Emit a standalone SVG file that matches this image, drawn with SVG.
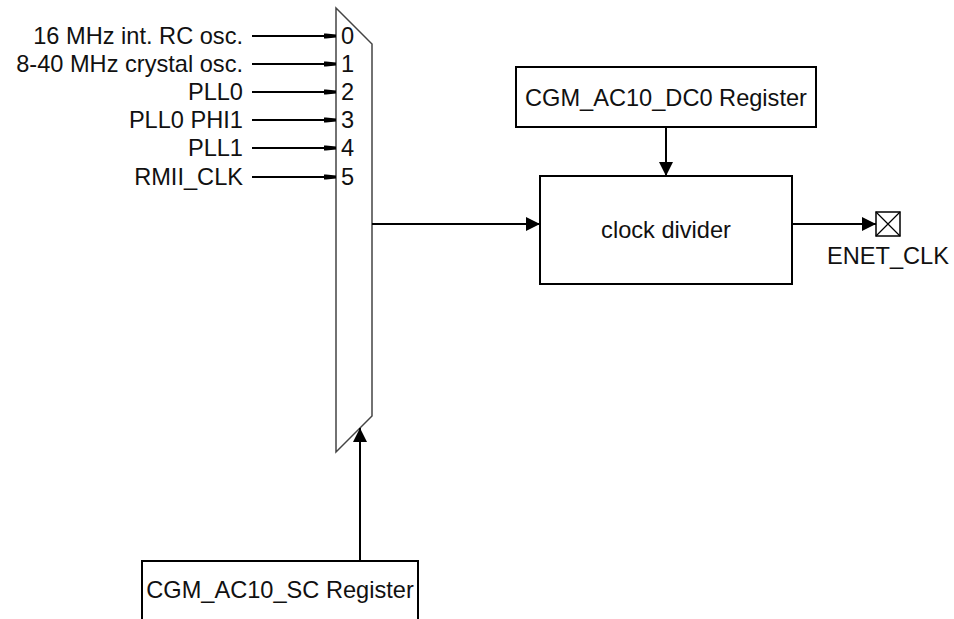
<svg xmlns="http://www.w3.org/2000/svg" width="954" height="619" viewBox="0 0 954 619">
<style>
text { font-family: "Liberation Sans", Arial, sans-serif; font-size: 23.6px; fill: #111; }
.lbl { text-anchor: end; }
.mid { text-anchor: middle; }
.box { fill: #fff; stroke: #000; stroke-width: 2; }
.mux { fill: #fff; stroke: #444; stroke-width: 1.5; }
.wire { fill: none; stroke: #000; stroke-width: 2; }
</style>
<defs>
<marker id="sm" viewBox="0 0 12 8" refX="12" refY="4" markerWidth="12" markerHeight="8" markerUnits="userSpaceOnUse" orient="auto">
<path d="M0,1.5 L2,1.5 L12,2.5 L12,5.5 L2,6.5 L0,6.5 Z" fill="#000"/>
</marker>
<marker id="big" viewBox="0 0 14 14" refX="14" refY="7" markerWidth="14" markerHeight="14" markerUnits="userSpaceOnUse" orient="auto">
<path d="M0,0 L14,7 L0,14 Z" fill="#000"/>
</marker>
</defs>

<g id="mux">
<path class="mux" d="M336,8 L372,44 L372,416 L336,452 Z"/>
<text x="341" y="44">0</text>
<text x="341" y="72">1</text>
<text x="341" y="100">2</text>
<text x="341" y="128">3</text>
<text x="341" y="156">4</text>
<text x="341" y="185">5</text>
</g>

<g id="inputs">
<text class="lbl" x="243" y="44">16 MHz int. RC osc.</text>
<text class="lbl" x="243" y="72">8-40 MHz crystal osc.</text>
<text class="lbl" x="243" y="100">PLL0</text>
<text class="lbl" x="243" y="128">PLL0 PHI1</text>
<text class="lbl" x="243" y="156">PLL1</text>
<text class="lbl" x="243" y="185">RMII_CLK</text>
</g>

<g id="dc0">
<rect class="box" x="516" y="67" width="300" height="60"/>
<text class="mid" x="666" y="106">CGM_AC10_DC0 Register</text>
</g>

<g id="divider">
<rect class="box" x="540" y="176" width="252" height="108"/>
<text class="mid" x="666" y="238">clock divider</text>
</g>

<g id="enet">
<rect x="876" y="212" width="24" height="24" fill="#fff" stroke="#000" stroke-width="1.5"/>
<path d="M876,212 L900,236 M900,212 L876,236" stroke="#000" stroke-width="1.2"/>
<text class="mid" x="888" y="264">ENET_CLK</text>
</g>

<g id="sc">
<path class="box" d="M142,619 L142,561 L418,561 L418,619"/>
<text class="mid" x="280" y="598">CGM_AC10_SC Register</text>
</g>

<g id="connectors">
<line class="wire" x1="252" y1="36" x2="336" y2="36" marker-end="url(#sm)"/>
<line class="wire" x1="252" y1="64" x2="336" y2="64" marker-end="url(#sm)"/>
<line class="wire" x1="252" y1="92" x2="336" y2="92" marker-end="url(#sm)"/>
<line class="wire" x1="252" y1="120" x2="336" y2="120" marker-end="url(#sm)"/>
<line class="wire" x1="252" y1="148" x2="336" y2="148" marker-end="url(#sm)"/>
<line class="wire" x1="252" y1="177" x2="336" y2="177" marker-end="url(#sm)"/>
<line class="wire" x1="372" y1="224" x2="540" y2="224" marker-end="url(#big)"/>
<line class="wire" x1="666" y1="127" x2="666" y2="176" marker-end="url(#big)"/>
<line class="wire" x1="792" y1="224" x2="876" y2="224" marker-end="url(#big)"/>
<line class="wire" x1="360" y1="561" x2="360" y2="428" marker-end="url(#big)"/>
</g>
</svg>
